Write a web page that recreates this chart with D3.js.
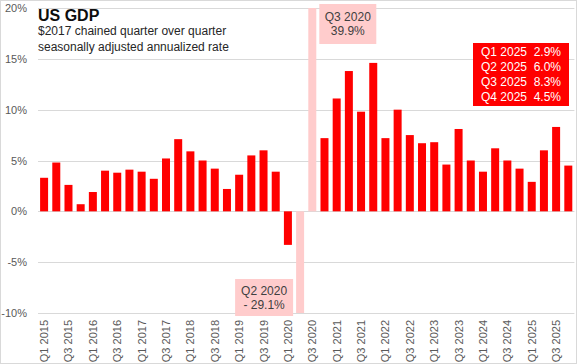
<!DOCTYPE html>
<html>
<head>
<meta charset="utf-8">
<script src="https://cdn.jsdelivr.net/npm/d3@7"></script>
<style>
  body { margin: 0; background: #fff; }
  text { font-family: "Liberation Sans", Arial, sans-serif; }
</style>
</head>
<body>
<div id="chart"></div>
<script>
// quarters Q1 2015 .. Q4 2025
const years = [2015, 2016, 2017, 2018, 2019, 2020, 2021, 2022, 2023, 2024, 2025];
const quarterNames = ['Q1', 'Q2', 'Q3', 'Q4'];
const quarters = [];
years.forEach(y => quarterNames.forEach(q => quarters.push(q + ' ' + y)));

// annualized qoq growth, %
const growth = [
  3.3, 4.8, 2.6, 0.7,
  1.9, 4.0, 3.8, 4.1,
  3.9, 3.2, 5.2, 7.1,
  5.9, 5.0, 4.2, 2.2,
  3.6, 5.5, 6.0, 3.9,
  -3.3, -29.1, 39.9, 7.2,
  11.1, 13.8, 9.8, 14.6,
  7.2, 10.0, 7.5, 6.7,
  6.8, 4.6, 8.1, 5.0,
  3.9, 6.2, 5.0, 4.2,
  2.9, 6.0, 8.3, 4.5
];

// covid quarters shown off-scale in pink
const outliers = ['Q2 2020', 'Q3 2020'];

const yTicks = [-10, -5, 0, 5, 10, 15, 20];
const xTickLabels = quarters.filter(q => q.startsWith('Q1') || q.startsWith('Q3'));

const titleText = 'US GDP';
const subtitleLines = ['$2017 chained quarter over quarter', 'seasonally adjusted annualized rate'];
const recentLines = [['Q1 2025', '2.9%'], ['Q2 2025', '6.0%'], ['Q3 2025', '8.3%'], ['Q4 2025', '4.5%']];
const lowNote = ['Q2 2020', '- 29.1%'];
const highNote = ['Q3 2020', '39.9%'];

const width = 577, height = 364;
const plotLeft = 38, plotRight = 574.4, plotTop = 8, plotBottom = 313;

const svg = d3.select('#chart').append('svg')
  .attr('width', width).attr('height', height);

// outer border
svg.append('rect')
  .attr('x', 0.5).attr('y', 0.5)
  .attr('width', width - 1).attr('height', height - 1)
  .attr('fill', 'none').attr('stroke', '#d9d9d9');

const x = d3.scaleBand().domain(quarters).range([plotLeft, plotRight])
  .paddingInner(0.344).paddingOuter(0.172);
const y = d3.scaleLinear().domain([-10, 20]).range([plotBottom, plotTop]);

// gridlines
svg.append('g').selectAll('line').data(yTicks).enter().append('line')
  .attr('x1', plotLeft).attr('x2', plotRight)
  .attr('y1', d => Math.round(y(d)) + 0.5)
  .attr('y2', d => Math.round(y(d)) + 0.5)
  .attr('stroke', '#d9d9d9').attr('stroke-width', 1);

// y labels
svg.append('g').selectAll('text').data(yTicks).enter().append('text')
  .attr('x', 27)
  .attr('y', d => y(d) + 4)
  .attr('text-anchor', 'end')
  .attr('font-size', '11px')
  .attr('fill', '#595959')
  .text(d => d + '%');

// clip for off-scale bars
svg.append('clipPath').attr('id', 'plot')
  .append('rect').attr('x', plotLeft).attr('y', plotTop)
  .attr('width', plotRight - plotLeft).attr('height', plotBottom - plotTop);

const data = quarters.map((q, i) => ({ q: q, v: growth[i] }));

svg.append('g').attr('clip-path', 'url(#plot)')
  .selectAll('rect').data(data).enter().append('rect')
  .attr('x', d => x(d.q))
  .attr('width', x.bandwidth())
  .attr('y', d => y(Math.max(0, d.v)))
  .attr('height', d => Math.abs(y(d.v) - y(0)))
  .attr('fill', d => outliers.includes(d.q) ? '#ffcccc' : '#ff0000');

// x labels, rotated
svg.append('g').selectAll('text').data(xTickLabels).enter().append('text')
  .attr('transform', d => 'translate(' + (x(d) + x.bandwidth() / 2 + 4) + ',320) rotate(-90)')
  .attr('text-anchor', 'end')
  .attr('font-size', '11px')
  .attr('fill', '#595959')
  .text(d => d);

// title
svg.append('text')
  .attr('x', 38).attr('y', 21)
  .attr('font-size', '16px').attr('font-weight', 'bold')
  .attr('fill', '#0d0d0d')
  .text(titleText);

svg.append('g').selectAll('text').data(subtitleLines).enter().append('text')
  .attr('x', 38).attr('y', (d, i) => 35 + i * 16)
  .attr('font-size', '12px')
  .attr('fill', '#262626')
  .text(d => d);

// note boxes
function noteBox(x0, y0, w, h, fill, color, lines, lineH) {
  const g = svg.append('g');
  g.append('rect').attr('x', x0).attr('y', y0).attr('width', w).attr('height', h).attr('fill', fill);
  g.selectAll('text').data(lines).enter().append('text')
    .attr('x', x0 + w / 2)
    .attr('y', (d, i) => y0 + h / 2 - (lines.length - 1) * lineH / 2 + i * lineH + 4)
    .attr('text-anchor', 'middle')
    .attr('font-size', '12px')
    .attr('fill', color)
    .attr('xml:space', 'preserve')
    .text(d => d);
}

// Q3 2020 note sits beside its bar
noteBox(x(highNote[0]) + x.bandwidth() + 3, 4, 57, 40, '#ffcccc', '#404040', highNote, 14);
// Q2 2020 note sits to the left of its bar
noteBox(x(lowNote[0]) - 61, 279, 58, 37, '#ffcccc', '#404040', lowNote, 14);
// recent quarters
noteBox(473, 43, 96, 63, '#ff0000', '#ffffff', recentLines.map(l => l[0] + '  ' + l[1]), 14.7);
</script>
</body>
</html>
